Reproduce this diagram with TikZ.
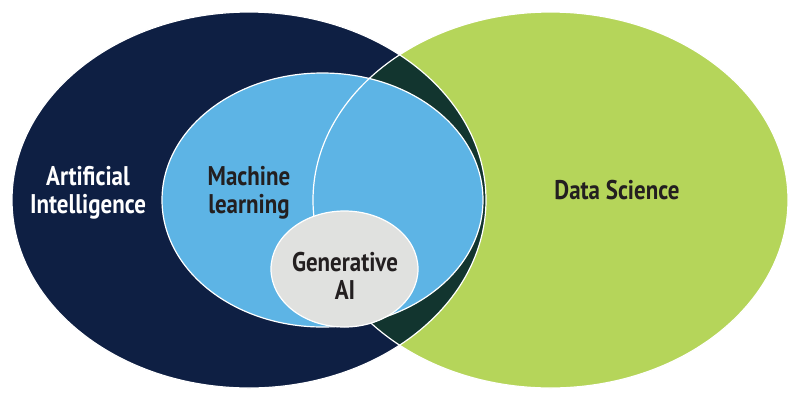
\documentclass[tikz,border=0pt]{standalone}
\usepackage{fontspec}
\setmainfont{PT Sans}[FakeStretch=0.85]
\begin{document}
\definecolor{navy}{HTML}{0E1F43}
\definecolor{lgreen}{HTML}{B5D55A}
\definecolor{dgreen}{HTML}{12352F}
\definecolor{lblue}{HTML}{5DB4E5}
\definecolor{lgray}{HTML}{E0E1DF}
\definecolor{txt}{HTML}{231F20}
\begin{tikzpicture}[x=1pt,y=-1pt,
  lbl/.style={font=\fontsize{27}{28}\selectfont\bfseries, align=center, inner sep=0pt},
  edge/.style={draw=white, line width=1.2pt}]
\useasboundingbox (0,0) rectangle (800,400);
\def\navyE{(249,200) ellipse [x radius=237, y radius=188]}
\def\greenE{(550.5,200) ellipse [x radius=237.5, y radius=188]}
\def\blueE{(322.5,200) ellipse [x radius=160.5, y radius=127]}
\def\grayE{(344.5,269) ellipse [x radius=73.5, y radius=58]}
\fill[navy] \navyE;
\fill[lgreen] \greenE;
\begin{scope}
  \clip \navyE;
  \fill[dgreen] \greenE;
\end{scope}
\draw[edge] \navyE;
\draw[edge] \greenE;
\fill[lblue] \blueE;
\begin{scope}
  \clip \blueE;
  \draw[edge] \greenE;
\end{scope}
\draw[edge] \blueE;
\fill[lgray] \grayE;
\draw[edge] \grayE;
\node[lbl, text=white] (ai) at (88,193) {Artificial\\Intelligence};
\node[lbl, text=txt] (ml) at (249,193) {Machine\\learning};
\node[lbl, text=txt] (ds) at (617,190) {Data Science};
\node[lbl, text=txt] (gen) at (345,276) {Generative\\AI};
\end{tikzpicture}
\end{document}
